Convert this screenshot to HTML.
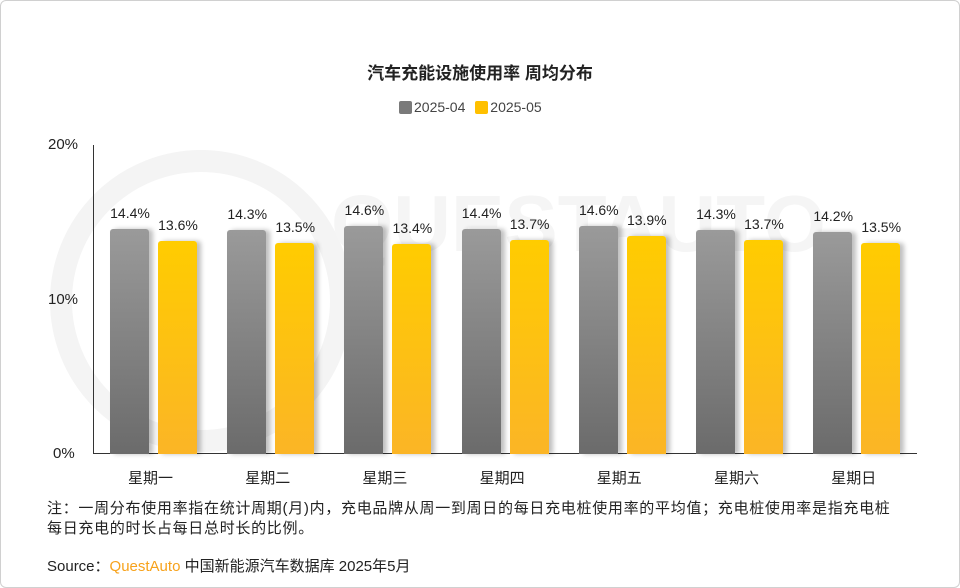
<!DOCTYPE html>
<html><head><meta charset="utf-8"><style>
body{margin:0;background:#fff;}
#c{position:relative;width:958px;height:586px;border:1px solid #d0d0d0;border-radius:6px;overflow:hidden;font-family:"Liberation Sans","Noto Sans CJK SC",sans-serif;color:#222;}
.t{position:absolute;white-space:nowrap;}
.bar{position:absolute;width:39px;border-radius:3px 3px 0 0;box-shadow:4px 0 5px rgba(0,0,0,0.25);}
.g{background:linear-gradient(#9a9a9a,#6b6b6b);}
.y{background:linear-gradient(#ffcc00,#fbb526);}
.v{position:absolute;font-size:14px;width:60px;text-align:center;}
</style></head><body><div id="c">
<svg width="958" height="586" style="position:absolute;left:0;top:0">
<circle cx="200" cy="300" r="140" fill="none" stroke="#f4f4f4" stroke-width="22"/>
<text x="330" y="250" font-size="80" fill="#f5f5f5" font-family="Liberation Sans" font-weight="bold">QUESTAUTO</text>
<line x1="92.5" y1="144" x2="92.5" y2="453" stroke="#333" stroke-width="1"/>
<line x1="92" y1="452.5" x2="916" y2="452.5" stroke="#333" stroke-width="1"/>
</svg>
<div class="t" style="left:0;width:958px;text-align:center;top:58px;font-size:17px;font-weight:bold;">汽车充能设施使用率 周均分布</div>
<div class="t" style="left:398px;top:98px;font-size:14px;color:#444;"><span style="display:inline-block;width:13px;height:13px;background:#7a7a7a;border-radius:2px;vertical-align:-2px;margin-right:2px"></span>2025-04 <span style="display:inline-block;width:13px;height:13px;background:#ffc000;border-radius:2px;vertical-align:-2px;margin-right:2px;margin-left:6px"></span>2025-05</div>
<div class="t" style="left:47px;top:135px;font-size:15px;">20%</div>
<div class="t" style="left:47px;top:290px;font-size:15px;">10%</div>
<div class="t" style="left:52px;top:444px;font-size:15px;">0%</div>
<div id="bars"></div>
<div class="t" style="left:46px;top:498px;font-size:15px;line-height:20px;letter-spacing:0.7px;">注：一周分布使用率指在统计周期(月)内，充电品牌从周一到周日的每日充电桩使用率的平均值；充电桩使用率是指充电桩<br>每日充电的时长占每日总时长的比例。</div>
<div class="t" style="left:46px;top:554px;font-size:15px;">Source：<span style="color:#f7a21b">QuestAuto</span> 中国新能源汽车数据库 2025年5月</div>
</div>
<script>
var d=[["星期一",14.4,13.6],["星期二",14.3,13.5],["星期三",14.6,13.4],["星期四",14.4,13.7],["星期五",14.6,13.9],["星期六",14.3,13.7],["星期日",14.2,13.5]];
var h="";
d.forEach(function(r,i){var x=109+i*117.2;
var h1=r[1]*15.65,h2=r[2]*15.65;
h+='<div class="bar g" style="left:'+x+'px;top:'+(453-h1)+'px;height:'+h1+'px"></div>';
h+='<div class="bar y" style="left:'+(x+48)+'px;top:'+(453-h2)+'px;height:'+h2+'px"></div>';
h+='<div class="v" style="left:'+(x-10)+'px;top:'+(453-h1-24)+'px">'+r[1].toFixed(1)+'%</div>';
h+='<div class="v" style="left:'+(x+38)+'px;top:'+(453-h2-24)+'px">'+r[2].toFixed(1)+'%</div>';
h+='<div class="t" style="left:'+(x+18)+'px;top:466px;font-size:15px">'+r[0]+'</div>';});
document.getElementById("bars").innerHTML=h;
</script>
</body></html>
